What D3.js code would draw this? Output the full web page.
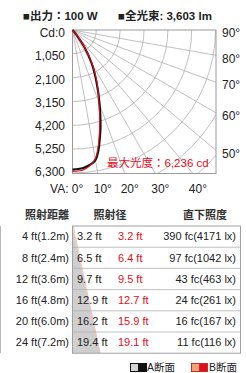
<!DOCTYPE html>
<html>
<head>
<meta charset="utf-8">
<script src="https://cdn.jsdelivr.net/npm/d3@7"></script>
<style>
  body { margin: 0; background: #fff; }
  svg { display: block; font-family: "Liberation Sans", Arial, "Noto Sans CJK JP", sans-serif; }
</style>
</head>
<body>
<svg width="246" height="373"></svg>
<script>
// candela curve, angle from straight down
const angles = [0, 5, 10, 15, 20, 25, 30, 35, 40, 45, 50, 55, 60, 65, 70, 75, 80, 85, 90]
const cdA = [6150, 6080, 5820, 4720, 3500, 2480, 1680, 880, 260, 30, 0, 0, 0, 0, 0, 0, 0, 0, 0]
const cdB = [6236, 6160, 5760, 4600, 3400, 2560, 1760, 960, 310, 40, 0, 0, 0, 0, 0, 0, 0, 0, 0]
const cdTicks = [0, 1050, 2100, 3150, 4200, 5250, 6300]
const bottomAngles = [0, 10, 20, 30, 40]
const rightAngles = [50, 60, 70, 80, 90]

// table
const distFt = [4, 8, 12, 16, 20, 24]
const distM = ["1.2", "2.4", "3.6", "4.8", "6.0", "7.2"]
const diamA = [3.2, 6.5, 9.7, 12.9, 16.2, 19.4]
const diamB = [3.2, 6.4, 9.5, 12.7, 15.9, 19.1]
const fc = [390, 97, 43, 24, 16, 11]
const lx = [4171, 1042, 463, 261, 167, 116]

const red = "#e60b1c"
const svg = d3.select("svg")

// header
svg.append("text").attr("x", 23).attr("y", 20).attr("font-size", 11.5).attr("font-weight", "bold")
    .attr("fill", "#222").text("■出力：100 W")
svg.append("text").attr("x", 118).attr("y", 20).attr("font-size", 11.5).attr("font-weight", "bold")
    .attr("fill", "#222").text("■全光束: 3,603 lm")

// polar chart
const ox = 72.5, oy = 30, size = 143.5
const r = d3.scaleLinear().domain([0, 6300]).range([0, 143])
const labelY = d3.scaleLinear().domain([0, 6300]).range([oy + 3, oy + 142])
const rad = d => d * Math.PI / 180

svg.append("clipPath").attr("id", "box")
    .append("rect").attr("x", ox).attr("y", oy).attr("width", size).attr("height", size)

const g = svg.append("g").attr("clip-path", "url(#box)")

d3.range(1, 10).forEach(k => {
    g.append("circle").attr("cx", ox).attr("cy", oy).attr("r", r(k * 1050))
        .attr("fill", "none").attr("stroke", "#b0b0b0").attr("stroke-width", 0.8)
})
d3.range(10, 90, 10).forEach(a => {
    g.append("line").attr("x1", ox).attr("y1", oy)
        .attr("x2", ox + 400 * Math.sin(rad(a))).attr("y2", oy + 400 * Math.cos(rad(a)))
        .attr("stroke", "#b0b0b0").attr("stroke-width", 0.8)
})

svg.append("rect").attr("x", ox).attr("y", oy).attr("width", size).attr("height", size)
    .attr("fill", "none").attr("stroke", "#9a9a9a").attr("stroke-width", 1)

const line = d3.lineRadial()
    .angle(d => Math.PI - rad(d[0]))
    .radius(d => r(d[1]))
    .curve(d3.curveCatmullRom)

const curves = svg.append("g").attr("transform", `translate(${ox},${oy})`)
curves.append("path").attr("d", line(angles.map((a, i) => [a, cdA[i]])))
    .attr("fill", "none").attr("stroke", "#111").attr("stroke-width", 2.1)
curves.append("path").attr("d", line(angles.map((a, i) => [a, cdB[i]])))
    .attr("fill", "none").attr("stroke", red).attr("stroke-width", 1.1)

// left cd labels
svg.selectAll(".cd").data(cdTicks).enter().append("text")
    .attr("x", 65).attr("y", d => labelY(d)).attr("dy", "0.35em")
    .attr("text-anchor", "end").attr("font-size", 12).attr("fill", "#222")
    .text(d => d === 0 ? "Cd:0" : d3.format(",")(d))

// bottom angle labels
svg.selectAll(".ba").data(bottomAngles).enter().append("text")
    .attr("x", d => ox + size * Math.tan(rad(d)) + 5).attr("y", oy + size + 15).attr("dy", "0.35em")
    .attr("text-anchor", "middle").attr("font-size", 12).attr("fill", "#222")
    .text(d => d + "°")
svg.append("text").attr("x", ox - 4).attr("y", oy + size + 15).attr("dy", "0.35em")
    .attr("text-anchor", "end").attr("font-size", 12).attr("fill", "#222").text("VA:")

// right angle labels
svg.selectAll(".ra").data(rightAngles).enter().append("text")
    .attr("x", ox + size + 6).attr("y", d => oy + size / Math.tan(rad(d)) + 3).attr("dy", "0.35em")
    .attr("font-size", 12).attr("fill", "#222")
    .text(d => d + "°")

svg.append("text").attr("x", 107).attr("y", 163).attr("dy", "0.35em")
    .attr("font-size", 11.5).attr("fill", red)
    .text("最大光度：" + d3.format(",")(d3.max(cdB)) + " cd")

// table
const tTop = 226, rowH = 21.2, tLeft = 72.5, tRight = 240.5
const tBottom = tTop + rowH * distFt.length
const rowY = i => tTop + rowH * (i + 0.5)

const headY = 215
svg.append("text").attr("x", 47).attr("y", headY).attr("dy", "0.35em").attr("text-anchor", "middle")
    .attr("font-size", 11).attr("font-weight", "bold").attr("fill", "#333").text("照射距離")
svg.append("text").attr("x", 110).attr("y", headY).attr("dy", "0.35em").attr("text-anchor", "middle")
    .attr("font-size", 11).attr("font-weight", "bold").attr("fill", "#333").text("照射径")
svg.append("text").attr("x", 205).attr("y", headY).attr("dy", "0.35em").attr("text-anchor", "middle")
    .attr("font-size", 11).attr("font-weight", "bold").attr("fill", "#333").text("直下照度")

// beam wedge
const yDist = d3.scaleLinear().domain([0, 24]).range([tTop, tBottom])
const wDiam = d3.scaleLinear().domain([0, 19.4]).range([0, 27.5])
const wedgeA = [[0, 0]].concat(distFt.map((d, i) => [d, diamA[i]]))
const wedgeB = [[0, 0]].concat(distFt.map((d, i) => [d, diamB[i]]))
svg.append("path")
    .attr("d", d3.line()(wedgeA.map(p => [tLeft + wDiam(p[1]), yDist(p[0])]).concat([[tLeft, tBottom]])) + "Z")
    .attr("fill", "#cfcfcf")
svg.append("path")
    .attr("d", d3.line()(wedgeB.map(p => [tLeft + wDiam(p[1]) + 0.6, yDist(p[0])])))
    .attr("fill", "none").attr("stroke", "#f3b0b0").attr("stroke-width", 0.8)

d3.range(1, distFt.length).forEach(i => {
    svg.append("line").attr("x1", tLeft).attr("x2", tRight)
        .attr("y1", tTop + rowH * i).attr("y2", tTop + rowH * i)
        .attr("stroke", "#b0b0b0").attr("stroke-width", 0.8)
})
svg.append("rect").attr("x", tLeft).attr("y", tTop).attr("width", tRight - tLeft).attr("height", tBottom - tTop)
    .attr("fill", "none").attr("stroke", "#a0a0a0").attr("stroke-width", 1)
svg.append("line").attr("x1", 0.5).attr("x2", 0.5).attr("y1", tTop).attr("y2", tBottom)
    .attr("stroke", "#b8b8b8").attr("stroke-width", 1)

distFt.forEach((d, i) => {
    const y = rowY(i)
    svg.append("text").attr("x", 69).attr("y", y).attr("dy", "0.35em").attr("text-anchor", "end")
        .attr("font-size", 11).attr("fill", "#222").text(`${d} ft(${distM[i]}m)`)
    svg.append("text").attr("x", 77).attr("y", y).attr("dy", "0.35em")
        .attr("font-size", 11).attr("fill", "#222").text(`${diamA[i].toFixed(1)} ft`)
    svg.append("text").attr("x", 118).attr("y", y).attr("dy", "0.35em")
        .attr("font-size", 11).attr("fill", red).text(`${diamB[i].toFixed(1)} ft`)
    svg.append("text").attr("x", 236).attr("y", y).attr("dy", "0.35em").attr("text-anchor", "end")
        .attr("font-size", 11).attr("fill", "#222").text(`${fc[i]} fc(${lx[i]} lx)`)
})

// legend
const legY = 363.5
svg.append("rect").attr("x", 130.5).attr("y", legY).attr("width", 8).attr("height", 8)
    .attr("fill", "#d4d4d4").attr("stroke", "#111").attr("stroke-width", 1)
svg.append("rect").attr("x", 138.5).attr("y", legY).attr("width", 8).attr("height", 8)
    .attr("fill", "#111").attr("stroke", "#111").attr("stroke-width", 1)
svg.append("text").attr("x", 147).attr("y", legY + 4).attr("dy", "0.35em")
    .attr("font-size", 10.5).attr("fill", "#222").text("A断面")
svg.append("rect").attr("x", 191.5).attr("y", legY).attr("width", 8).attr("height", 8)
    .attr("fill", "#f2a07a").attr("stroke", "#c0302a").attr("stroke-width", 1)
svg.append("rect").attr("x", 199.5).attr("y", legY).attr("width", 8).attr("height", 8)
    .attr("fill", red).attr("stroke", "#c0302a").attr("stroke-width", 1)
svg.append("text").attr("x", 209).attr("y", legY + 4).attr("dy", "0.35em")
    .attr("font-size", 10.5).attr("fill", "#222").text("B断面")
</script>
</body>
</html>
